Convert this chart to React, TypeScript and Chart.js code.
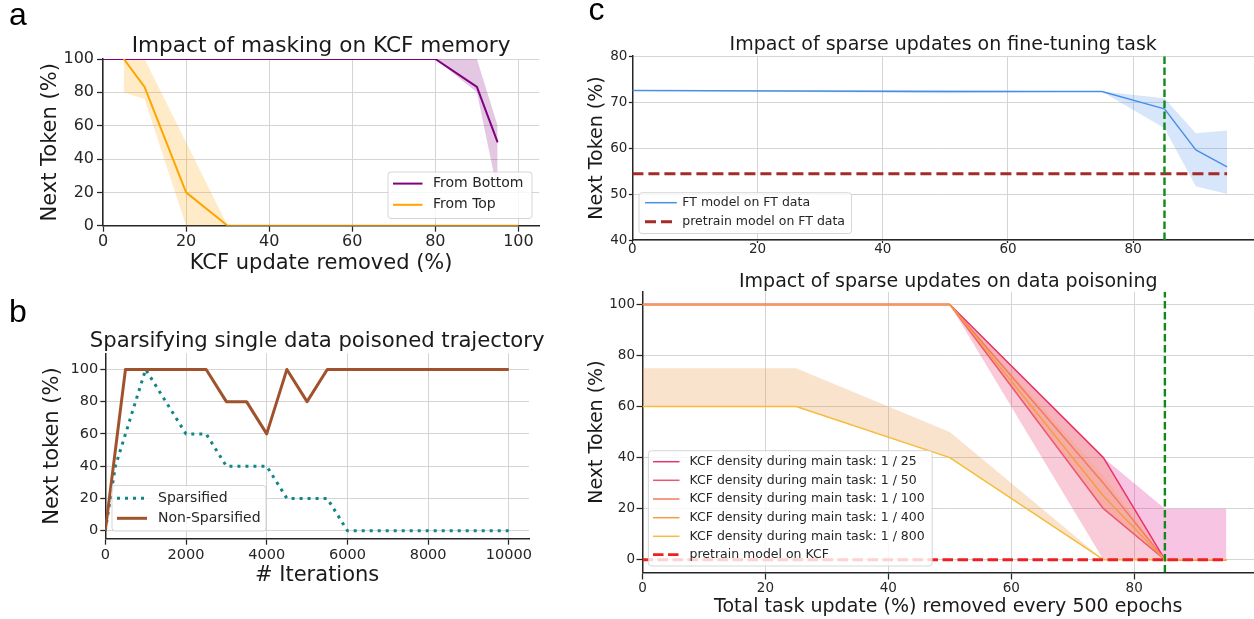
import React, { useEffect, useRef } from 'react';
import { Chart, registerables } from 'chart.js';

Chart.register(...registerables);

const FONT = "'DejaVu Sans', sans-serif";
const INK = '#262626';
const TITLE_INK = '#1a1a1a';
const GRID = '#d5d5d5';
Chart.defaults.font.family = FONT;

// ---------------- Panel a: masking ----------------
const aLegendLabels = ['From Bottom', 'From Top'];
const maskBottomX = [0, 10, 20, 30, 40, 50, 60, 70, 80, 90, 95];
const fromBottom = [100, 100, 100, 100, 100, 100, 100, 100, 100, 83.3, 50];
const fromBottomLo = [100, 100, 100, 100, 100, 100, 100, 100, 100, 80, 20];
const fromBottomHi = [100, 100, 100, 100, 100, 100, 100, 100, 100, 100, 60];
const maskTopX = [5, 10, 20, 30, 40, 50, 60, 70, 80, 90, 100];
const fromTop = [100, 83.3, 20, 0, 0, 0, 0, 0, 0, 0, 0];
const fromTopLo = [80, 76, 0, 0, 0, 0, 0, 0, 0, 0, 0];
const fromTopHi = [100, 100, 50, 0, 0, 0, 0, 0, 0, 0, 0];
const aXTicks = [0, 20, 40, 60, 80, 100];
const aYTicks = [0, 20, 40, 60, 80, 100];

// ---------------- Panel b: sparsifying trajectory ----------------
const bLegendLabels = ['Sparsified', 'Non-Sparsified'];
const sparseIters = [0, 250, 500, 1000, 1500, 2000, 2500, 3000, 3500, 4000, 4500, 5000, 5500, 6000, 6500, 7000, 7500, 8000, 8500, 9000, 9500, 10000];
const sparsified = [0, 40, 60, 100, 80, 60, 60, 40, 40, 40, 20, 20, 20, 0, 0, 0, 0, 0, 0, 0, 0, 0];
const denseIters = [0, 500, 1000, 1500, 2000, 2500, 3000, 3500, 4000, 4500, 5000, 5500, 6000, 6500, 7000, 7500, 8000, 8500, 9000, 9500, 10000];
const nonSparsified = [0, 100, 100, 100, 100, 100, 80, 80, 60, 100, 80, 100, 100, 100, 100, 100, 100, 100, 100, 100, 100];
const bXTicks = [0, 2000, 4000, 6000, 8000, 10000];
const bYTicks = [0, 20, 40, 60, 80, 100];

// ---------------- Panel c (top): fine-tuning task ----------------
const cTopLegendLabels = ['FT model on FT data', 'pretrain model on FT data'];
const ftX = [0, 25, 50, 75, 85, 90, 95];
const ftModel = [72.5, 72.4, 72.3, 72.3, 68.5, 59.6, 55.9];
const ftLo = [72.5, 72.2, 71.9, 72.3, 64.3, 51.7, 50.0];
const ftHi = [72.5, 72.6, 72.6, 72.3, 70.8, 63.2, 63.8];
const pretrainX = [0, 95];
const pretrainFT = [54.4, 54.4];
const cutoffX = [85, 85];
const cTopCutoffY = [40, 80];
const cTopXTicks = [0, 20, 40, 60, 80];
const cTopYTicks = [40, 50, 60, 70, 80];

// ---------------- Panel c (bottom): data poisoning ----------------
const kcfDensities = ['1 / 25', '1 / 50', '1 / 100', '1 / 400', '1 / 800'];
const kcfX = [0, 25, 50, 75, 85, 95];
const kcfMean = [
  [100, 100, 100, 40, 0, 0],
  [100, 100, 100, 20, 0, 0],
  [100, 100, 100, 30, 0, 0],
  [100, 100, 100, 25, 0, 0],
  [60, 60, 40, 0, 0, 0],
];
const kcfLo = [
  [100, 100, 100, 40, 0, 0],
  [100, 100, 100, 0, 0, 0],
  [100, 100, 100, 20, 0, 0],
  [100, 100, 100, 20, 0, 0],
  [60, 60, 40, 0, 0, 0],
];
const kcfHi = [
  [100, 100, 100, 40, 20, 20],
  [100, 100, 100, 40, 0, 0],
  [100, 100, 100, 40, 0, 0],
  [100, 100, 100, 33, 0, 0],
  [75, 75, 50, 0, 0, 0],
];
const pretrainKCF = [0, 0];
const cBotCutoffY = [-5, 105];
const cBotXTicks = [0, 20, 40, 60, 80];
const cBotYTicks = [0, 20, 40, 60, 80, 100];

// ---------------- styles ----------------
const PURPLE = '#800080';
const ORANGE = '#ffa500';
const TEAL = '#138585';
const SIENNA = '#a0522d';
const BLUE = '#4a8fe7';
const BROWN = '#a52a2a';
const GREEN = '#10891a';
const RED = '#ee2020';
const KCF_LINE = ['#e8336b', '#ee5670', '#f27b60', '#f59d45', '#f5bd3a'];
const KCF_BAND = ['rgba(223,20,143,0.25)', 'rgba(231,45,100,0.25)', 'rgba(240,90,80,0.22)', 'rgba(244,140,60,0.14)', 'rgba(232,145,55,0.25)'];

// ---------------- helpers ----------------
const pts = (xs: number[], ys: number[]) => xs.map((x, i) => ({ x, y: ys[i] }));

function lineDs(xs: number[], ys: number[], color: string, width: number, dash: number[] = []) {
  return {
    data: pts(xs, ys),
    borderColor: color,
    backgroundColor: color,
    borderWidth: width,
    borderDash: dash,
    borderCapStyle: 'butt',
    borderJoinStyle: 'round',
    pointRadius: 0,
    pointHoverRadius: 0,
    fill: false,
    tension: 0,
  };
}

function bandDs(xs: number[], lo: number[], hi: number[], color: string) {
  return [
    { data: pts(xs, lo), borderColor: 'rgba(0,0,0,0)', borderWidth: 0, pointRadius: 0, fill: false, tension: 0 },
    { data: pts(xs, hi), borderColor: 'rgba(0,0,0,0)', borderWidth: 0, pointRadius: 0, fill: '-1', backgroundColor: color, tension: 0 },
  ];
}

function ordered(ds: any[]) {
  ds.forEach((d, i) => (d.order = ds.length - i));
  return ds;
}

type AxisSpec = {
  horizontal: boolean;
  min: number;
  max: number;
  ticks: number[];
  size: number;
  fontSize: number;
  tickLen: number;
  pad: number;
  title?: string;
  titleSize?: number;
  titlePad?: number;
};

function axis(p: AxisSpec) {
  return {
    type: 'linear',
    min: p.min,
    max: p.max,
    afterBuildTicks: (a: any) => {
      a.ticks = p.ticks.map((v) => ({ value: v }));
    },
    afterFit: (a: any) => {
      if (p.horizontal) a.height = p.size;
      else a.width = p.size;
    },
    ticks: {
      color: INK,
      font: { family: FONT, size: p.fontSize, lineHeight: 1 },
      padding: p.pad,
      maxRotation: 0,
      minRotation: 0,
      autoSkip: false,
      callback: (v: any) => String(v),
    },
    grid: { color: GRID, lineWidth: 1, drawTicks: true, tickLength: p.tickLen, tickColor: INK, tickWidth: 1.25 },
    border: { display: true, color: INK, width: 1.5 },
    title: p.title
      ? {
          display: true,
          text: p.title,
          color: TITLE_INK,
          font: { family: FONT, size: p.titleSize, lineHeight: 1 },
          padding: p.horizontal ? { top: 0, bottom: p.titlePad } : { top: p.titlePad, bottom: 0 },
        }
      : { display: false },
  };
}

function baseOptions(o: any) {
  return {
    responsive: false,
    animation: false,
    devicePixelRatio: 1,
    events: [],
    layout: { padding: { left: 0, top: o.padTop ?? 0, right: o.padRight, bottom: 0 }, autoPadding: false },
    plugins: {
      legend: { display: false },
      tooltip: { enabled: false },
      title: o.title
        ? {
            display: true,
            text: o.title,
            color: TITLE_INK,
            fullSize: false,
            font: { family: FONT, size: o.titleSize, weight: 'normal', lineHeight: 1 },
            padding: { top: o.titlePad[0], bottom: o.titlePad[1] },
          }
        : { display: false },
    },
    scales: { x: o.x, y: o.y },
  };
}

// Title centred over the plot area; allowed to be wider than the plot area
function wideTitlePlugin(text: string, size: number, centerY: number) {
  return {
    id: 'wideTitle',
    afterDraw(chart: any) {
      const ctx: CanvasRenderingContext2D = chart.ctx;
      const a = chart.chartArea;
      ctx.save();
      ctx.font = `${size}px ${FONT}`;
      ctx.fillStyle = TITLE_INK;
      ctx.textAlign = 'center';
      ctx.textBaseline = 'middle';
      ctx.fillText(text, (a.left + a.right) / 2, centerY);
      ctx.restore();
    },
  };
}

type LegendItem = { label: string; color: string; width: number; dash?: number[] };
type LegendSpec = {
  x: number; y: number; w: number; h: number;
  rows: number[]; lineX0: number; lineX1: number; textX: number; fontSize: number;
  items: LegendItem[];
};

function legendPlugin(spec: LegendSpec) {
  return {
    id: 'boxLegend',
    afterDraw(chart: any) {
      const ctx: CanvasRenderingContext2D = chart.ctx;
      const { x, y, w, h } = spec;
      const r = 3;
      ctx.save();
      ctx.beginPath();
      ctx.moveTo(x + r, y);
      ctx.arcTo(x + w, y, x + w, y + h, r);
      ctx.arcTo(x + w, y + h, x, y + h, r);
      ctx.arcTo(x, y + h, x, y, r);
      ctx.arcTo(x, y, x + w, y, r);
      ctx.closePath();
      ctx.fillStyle = 'rgba(255,255,255,0.8)';
      ctx.fill();
      ctx.strokeStyle = 'rgba(204,204,204,0.8)';
      ctx.lineWidth = 1;
      ctx.stroke();
      spec.items.forEach((it, i) => {
        const cy = spec.rows[i];
        ctx.beginPath();
        ctx.setLineDash(it.dash ?? []);
        ctx.lineCap = 'butt';
        ctx.strokeStyle = it.color;
        ctx.lineWidth = it.width;
        ctx.moveTo(spec.lineX0, cy);
        ctx.lineTo(spec.lineX1, cy);
        ctx.stroke();
        ctx.setLineDash([]);
        ctx.fillStyle = INK;
        ctx.font = `${spec.fontSize}px ${FONT}`;
        ctx.textBaseline = 'middle';
        ctx.textAlign = 'left';
        ctx.fillText(it.label, spec.textX, cy);
      });
      ctx.restore();
    },
  };
}

// ---------------- chart builders ----------------
function buildA() {
  const datasets = ordered([
    ...bandDs(maskBottomX, fromBottomLo, fromBottomHi, 'rgba(128,0,128,0.22)'),
    ...bandDs(maskTopX, fromTopLo, fromTopHi, 'rgba(255,165,0,0.22)'),
    lineDs(maskBottomX, fromBottom, PURPLE, 2),
    lineDs(maskTopX, fromTop, ORANGE, 2),
  ]);
  return {
    type: 'line',
    data: { datasets },
    options: baseOptions({
      padRight: 5.8,
      title: 'Impact of masking on KCF memory',
      titleSize: 21.6,
      titlePad: [35.9, 1.5],
      x: axis({ horizontal: true, min: 0, max: 105, ticks: aXTicks, size: 64.3, fontSize: 16, tickLen: 6, pad: 2, title: 'KCF update removed (%)', titleSize: 21, titlePad: 15.5 }),
      y: axis({ horizontal: false, min: 0, max: 100, ticks: aYTicks, size: 103, fontSize: 16, tickLen: 6, pad: 3, title: 'Next Token (%)', titleSize: 21, titlePad: 39.6 }),
    }),
    plugins: [
      legendPlugin({
        x: 388, y: 172, w: 144, h: 46.5, rows: [183.6, 204.8], lineX0: 393, lineX1: 422.5, textX: 433, fontSize: 14,
        items: [
          { label: aLegendLabels[0], color: PURPLE, width: 2 },
          { label: aLegendLabels[1], color: ORANGE, width: 2 },
        ],
      }),
    ],
  };
}

function buildB() {
  const datasets = ordered([
    lineDs(sparseIters, sparsified, TEAL, 3, [3, 5]),
    lineDs(denseIters, nonSparsified, SIENNA, 3),
  ]);
  return {
    type: 'line',
    data: { datasets },
    options: baseOptions({
      padRight: 25,
      padTop: 58.3,
      x: axis({ horizontal: true, min: 0, max: 10500, ticks: bXTicks, size: 80.3, fontSize: 14.5, tickLen: 6, pad: 3, title: '# Iterations', titleSize: 21, titlePad: 32.5 }),
      y: axis({ horizontal: false, min: -5, max: 110, ticks: bYTicks, size: 105.3, fontSize: 14.5, tickLen: 5, pad: 2, title: 'Next token (%)', titleSize: 21, titlePad: 41.6 }),
    }),
    plugins: [
      wideTitlePlugin('Sparsifying single data poisoned trajectory', 21.2, 46.7),
      legendPlugin({
        x: 112, y: 190.5, w: 154, h: 45.5, rows: [203.3, 223.3], lineX0: 117, lineX1: 147, textX: 158, fontSize: 14,
        items: [
          { label: bLegendLabels[0], color: TEAL, width: 3, dash: [3, 5] },
          { label: bLegendLabels[1], color: SIENNA, width: 3 },
        ],
      }),
    ],
  };
}

function buildCTop() {
  const datasets = ordered([
    ...bandDs(ftX, ftLo, ftHi, 'rgba(74,143,231,0.22)'),
    lineDs(ftX, ftModel, BLUE, 1.5),
    lineDs(pretrainX, pretrainFT, BROWN, 3, [11, 5]),
    lineDs(cutoffX, cTopCutoffY, GREEN, 2.4, [7.5, 3.5]),
  ]);
  return {
    type: 'line',
    data: { datasets },
    options: baseOptions({
      padRight: 0,
      title: 'Impact of sparse updates on fine-tuning task',
      titleSize: 19,
      titlePad: [35.5, 1.5],
      x: axis({ horizontal: true, min: 0, max: 99.3, ticks: cTopXTicks, size: 18, fontSize: 13.5, tickLen: 3, pad: 0 }),
      y: axis({ horizontal: false, min: 40, max: 80, ticks: cTopYTicks, size: 52.4, fontSize: 13.5, tickLen: 3.5, pad: 1.5, title: 'Next Token (%)', titleSize: 19, titlePad: 7.5 }),
    }),
    plugins: [
      legendPlugin({
        x: 59, y: 192.7, w: 212.5, h: 40.8, rows: [202.7, 221.7], lineX0: 65, lineX1: 96.8, textX: 102.3, fontSize: 12.5,
        items: [
          { label: cTopLegendLabels[0], color: BLUE, width: 1.5 },
          { label: cTopLegendLabels[1], color: BROWN, width: 3, dash: [11, 5] },
        ],
      }),
    ],
  };
}

function buildCBottom() {
  const bands: any[] = [];
  kcfDensities.forEach((_, i) => bands.push(...bandDs(kcfX, kcfLo[i], kcfHi[i], KCF_BAND[i])));
  const lines = kcfDensities.map((_, i) => lineDs(kcfX, kcfMean[i], KCF_LINE[i], 1.5));
  const datasets = ordered([
    ...bands,
    ...lines,
    lineDs(pretrainX, pretrainKCF, RED, 2.8, [10.5, 4.5]),
    lineDs(cutoffX, cBotCutoffY, GREEN, 2.4, [7.5, 3.5]),
  ]);
  const items: LegendItem[] = kcfDensities.map((d, i) => ({
    label: `KCF density during main task: ${d}`,
    color: KCF_LINE[i],
    width: 1.5,
  }));
  items.push({ label: 'pretrain model on KCF', color: RED, width: 2.8, dash: [10.5, 4.5] });
  return {
    type: 'line',
    data: { datasets },
    options: baseOptions({
      padRight: 0,
      title: 'Impact of sparse updates on data poisoning',
      titleSize: 19,
      titlePad: [14.2, 0.5],
      x: axis({ horizontal: true, min: 0, max: 99.5, ticks: cBotXTicks, size: 46.5, fontSize: 13.5, tickLen: 7, pad: 2, title: 'Total task update (%) removed every 500 epochs', titleSize: 19, titlePad: 2.8 }),
      y: axis({ horizontal: false, min: -5, max: 105, ticks: cBotYTicks, size: 62.5, fontSize: 13.5, tickLen: 6, pad: 1.5, title: 'Next Token (%)', titleSize: 19, titlePad: 7.5 }),
    }),
    plugins: [
      legendPlugin({
        x: 68.4, y: 192.7, w: 283.8, h: 115.3,
        rows: [203.7, 222.3, 241, 259.7, 278.3, 296.7],
        lineX0: 73, lineX1: 99.5, textX: 109.5, fontSize: 12.5,
        items,
      }),
    ],
  };
}

// ---------------- components ----------------
function ChartBox({ left, top, width, height, build }: { left: number; top: number; width: number; height: number; build: () => any }) {
  const ref = useRef<HTMLCanvasElement>(null);
  useEffect(() => {
    const chart = new Chart(ref.current as HTMLCanvasElement, build());
    return () => chart.destroy();
  }, []);
  return (
    <canvas
      ref={ref}
      width={width}
      height={height}
      style={{ position: 'absolute', left, top, width, height, display: 'block' }}
    />
  );
}

function Letter({ text, left, top }: { text: string; left: number; top: number }) {
  return (
    <div
      style={{
        position: 'absolute',
        left,
        top,
        fontFamily: "'Liberation Sans', Arial, sans-serif",
        fontSize: 32,
        lineHeight: '32px',
        color: '#000',
      }}
    >
      {text}
    </div>
  );
}

export default function App() {
  return (
    <div style={{ position: 'absolute', left: 0, top: 0, width: 1254, height: 619, background: '#fff', overflow: 'hidden' }}>
      <ChartBox left={0} top={0} width={545} height={290} build={buildA} />
      <ChartBox left={0} top={295} width={554} height={324} build={buildB} />
      <ChartBox left={580} top={0} width={674} height={258} build={buildCTop} />
      <ChartBox left={580} top={258} width={674} height={361} build={buildCBottom} />
      <Letter text="a" left={9} top={-2} />
      <Letter text="b" left={9} top={294.6} />
      <Letter text="c" left={588.5} top={-6.6} />
    </div>
  );
}
